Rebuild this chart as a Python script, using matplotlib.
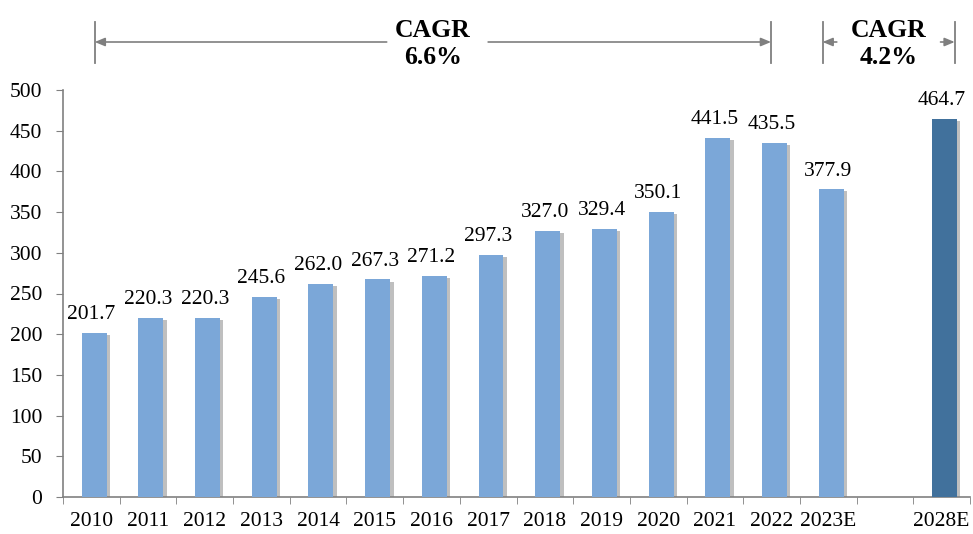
import matplotlib
matplotlib.use("Agg")
import matplotlib.pyplot as plt
import matplotlib.patheffects as pe
from matplotlib.transforms import blended_transform_factory

categories = ["2010", "2011", "2012", "2013", "2014", "2015", "2016", "2017",
              "2018", "2019", "2020", "2021", "2022", "2023E", "2028E"]
values = [201.7, 220.3, 220.3, 245.6, 262.0, 267.3, 271.2, 297.3,
          327.0, 329.4, 350.1, 441.5, 435.5, 377.9, 464.7]
value_labels = ["201.7", "220.3", "220.3", "245.6", "262.0", "267.3", "271.2", "297.3",
                "327.0", "329.4", "350.1", "441.5", "435.5", "377.9", "464.7"]
cagr_labels = ["CAGR\n6.6%", "CAGR\n4.2%"]

plt.rcParams['font.family'] = ['Liberation Serif', 'DejaVu Serif']

fig = plt.figure(figsize=(9.73, 5.34), dpi=100)
ax = fig.add_axes([63/973, 1-497/534, (970-63)/973, (497-90)/534])

positions = list(range(14)) + [15]
colors = ["#7BA7D8"] * 14 + ["#41719C"]
shadow = [pe.SimplePatchShadow(offset=(2.5, -1.5), shadow_rgbFace="#808080", alpha=0.5), pe.Normal()]
bars = ax.bar([p + 0.05 for p in positions], values, width=0.44, color=colors,
              zorder=3)
for b in bars:
    b.set_path_effects(shadow)

for p, v, lab in zip(positions, values, value_labels):
    ax.annotate(lab, xy=(p, v), xytext=(0, 10), textcoords="offset points",
                ha="center", va="baseline", fontsize=15.5)

ax.set_xlim(-0.5, 15.5)
ax.set_ylim(0, 500)
ax.set_yticks(range(0, 501, 50))
ax.tick_params(axis="y", labelsize=15.5, length=5, color="#808080", pad=10)
ax.set_xticks(positions)
ax.set_xticklabels(categories)
ax.tick_params(axis="x", which="major", length=0, labelsize=15.5, pad=11)
ax.set_xticks([i - 0.5 for i in range(17)], minor=True)
ax.tick_params(axis="x", which="minor", length=5, color="#808080")
for s in ["top", "right"]:
    ax.spines[s].set_visible(False)
for s in ["left", "bottom"]:
    ax.spines[s].set_color("#808080")
    ax.spines[s].set_linewidth(1.2)

tr = blended_transform_factory(ax.transData, fig.transFigure)
gc = "#7F7F7F"
y_mid = 1 - 42/534
y_top = 1 - 22/534
y_bot = 1 - 63/534
y_txt = 1 - 44/534
astyle = dict(arrowstyle="-|>,head_length=0.6,head_width=0.25", color=gc, lw=1.2,
              shrinkA=0, shrinkB=0)

def vbar(x):
    ax.plot([x, x], [y_bot, y_top], transform=tr, color=gc, lw=1.3, clip_on=False)

# first bracket
x1, x2 = 0.06, 11.99
vbar(x1); vbar(x2)
xm = (x1 + x2) / 2
ax.annotate("", xy=(x1, y_mid), xytext=(5.21, y_mid), xycoords=tr, textcoords=tr, arrowprops=astyle)
ax.annotate("", xy=(x2, y_mid), xytext=(7.0, y_mid), xycoords=tr, textcoords=tr, arrowprops=astyle)
ax.text(xm, y_txt, cagr_labels[0], transform=tr, ha="center", va="center",
        fontsize=18.5, fontweight="bold", linespacing=1.2)

# second bracket
x3, x4 = 12.9, 15.23
vbar(x3); vbar(x4)
xm2 = (x3 + x4) / 2
ax.annotate("", xy=(x3, y_mid), xytext=(x3 + 0.25, y_mid), xycoords=tr, textcoords=tr, arrowprops=astyle)
ax.annotate("", xy=(x4, y_mid), xytext=(x4 - 0.25, y_mid), xycoords=tr, textcoords=tr, arrowprops=astyle)
ax.text(xm2, y_txt, cagr_labels[1], transform=tr, ha="center", va="center",
        fontsize=18.5, fontweight="bold", linespacing=1.2)

fig.savefig("out.png", dpi=100)
